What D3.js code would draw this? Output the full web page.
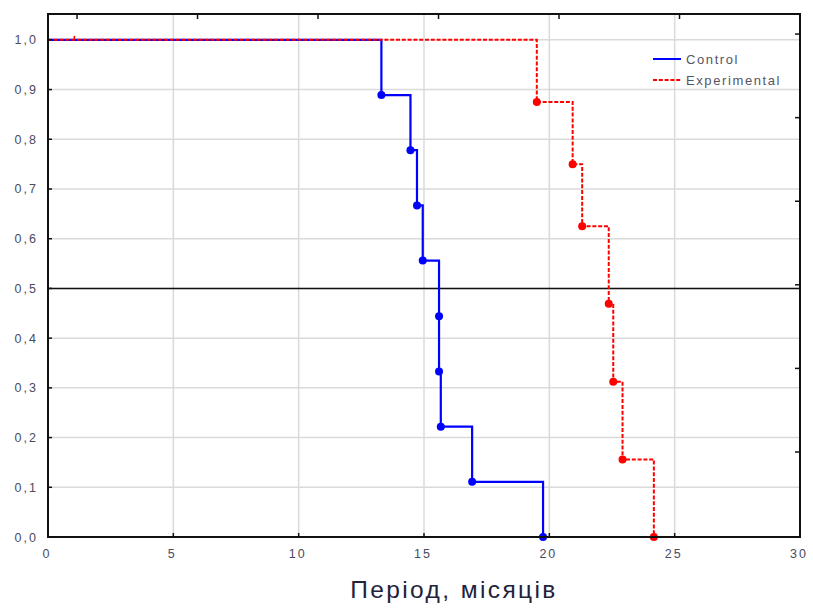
<!DOCTYPE html>
<html>
<head>
<meta charset="utf-8">
<script src="https://cdn.jsdelivr.net/npm/d3@7"></script>
<style>
  html, body { margin: 0; padding: 0; background: #fff; }
  svg { display: block; }
  text { font-family: "Liberation Sans", Arial, sans-serif; }
</style>
</head>
<body>
<svg id="chart" width="813" height="610"></svg>
<script>
// ---- data ----
const xTicks = [0, 5, 10, 15, 20, 25, 30];
const yTicks = [0, 0.1, 0.2, 0.3, 0.4, 0.5, 0.6, 0.7, 0.8, 0.9, 1.0];
const seriesNames = ["Control", "Experimental"];
const controlTimes = [0, 13.3, 14.46, 14.72, 14.95, 15.6, 15.6, 15.67, 16.92, 19.75];
const controlSurv  = [1, 0.889, 0.778, 0.667, 0.556, 0.444, 0.333, 0.222, 0.111, 0];
const expTimes = [0, 19.5, 20.93, 21.31, 22.37, 22.55, 22.92, 24.17];
const expSurv  = [1, 0.875, 0.75, 0.625, 0.469, 0.3125, 0.156, 0];
const expCensored = [1.05];
const medianLevel = 0.5;
const xTitle = "Період, місяців";
const topTicks = [0, 1, 2, 3, 4, 5];
const rightTicks = [1, 2, 3, 4, 5, 6];

// ---- layout ----
const svg = d3.select("#chart");
const L = 48, R = 800, T = 14, B = 537;
const x = d3.scaleLinear().domain([0, 30]).range([L, R]);
const y = d3.scaleLinear().domain([0, 1.052]).range([B, T]);
const xTop = d3.scaleLinear().domain([-0.241, 6.0]).range([L, R]);
const yRight = d3.scaleLinear().domain([-0.017, 6.24]).range([B, T]);

const gridColor = "#dadada";
const blue = "#0000ff", red = "#ff0000";
const labelColor = "#4a4a60";
const redDash = "4,1.8";

// grid
const g = svg.append("g");
g.selectAll("line.vg").data(xTicks.slice(1, -1)).join("line")
  .attr("x1", d => x(d)).attr("x2", d => x(d)).attr("y1", T).attr("y2", B)
  .attr("stroke", gridColor).attr("stroke-width", 1.5);
g.selectAll("line.hg").data(yTicks.slice(1)).join("line")
  .attr("x1", L).attr("x2", R).attr("y1", d => y(d)).attr("y2", d => y(d))
  .attr("stroke", gridColor).attr("stroke-width", 1.5);

// median line
svg.append("line").attr("x1", L).attr("x2", R)
  .attr("y1", y(medianLevel)).attr("y2", y(medianLevel))
  .attr("stroke", "#111").attr("stroke-width", 1.5);

// step lines
const line = d3.line().x(d => x(d[0])).y(d => y(d[1])).curve(d3.curveStepAfter);
const ctrl = controlTimes.map((t, i) => [t, controlSurv[i]]);
const expd = expTimes.map((t, i) => [t, expSurv[i]]);

svg.append("path").attr("d", line(ctrl)).attr("fill", "none")
  .attr("stroke", blue).attr("stroke-width", 2.2);
svg.append("path").attr("d", line(expd)).attr("fill", "none")
  .attr("stroke", red).attr("stroke-width", 2).attr("stroke-dasharray", redDash);

// markers
svg.selectAll("circle.c").data(ctrl.slice(1)).join("circle")
  .attr("cx", d => x(d[0])).attr("cy", d => y(d[1])).attr("r", 4).attr("fill", blue);
svg.selectAll("circle.e").data(expd.slice(1)).join("circle")
  .attr("cx", d => x(d[0])).attr("cy", d => y(d[1])).attr("r", 4).attr("fill", red);
// censored tick
svg.selectAll("line.cens").data(expCensored).join("line")
  .attr("x1", d => x(d)).attr("x2", d => x(d))
  .attr("y1", y(1) - 4).attr("y2", y(1))
  .attr("stroke", red).attr("stroke-width", 1.5);

// frame
svg.append("rect").attr("x", L).attr("y", T).attr("width", R - L).attr("height", B - T)
  .attr("fill", "none").attr("stroke", "#111").attr("stroke-width", 2);

// ticks (inward)
const tk = svg.append("g").attr("stroke", "#111").attr("stroke-width", 1.5);
tk.selectAll("line.lt").data(yTicks).join("line")
  .attr("x1", L).attr("x2", L + 4).attr("y1", d => y(d)).attr("y2", d => y(d));
tk.selectAll("line.bt").data(xTicks).join("line")
  .attr("x1", d => x(d)).attr("x2", d => x(d)).attr("y1", B).attr("y2", B - 4);
tk.selectAll("line.tt").data(topTicks).join("line")
  .attr("x1", d => xTop(d)).attr("x2", d => xTop(d)).attr("y1", T).attr("y2", T + 5);
tk.selectAll("line.rt").data(rightTicks).join("line")
  .attr("x1", R).attr("x2", R - 5).attr("y1", d => yRight(d)).attr("y2", d => yRight(d));

// tick labels
const fmt = d => d3.format(".1f")(d).replace(".", ",");
svg.selectAll("text.yl").data(yTicks).join("text")
  .attr("x", L - 10).attr("y", d => y(d) + 4.5)
  .attr("text-anchor", "end").attr("font-size", 12.5).attr("letter-spacing", 2)
  .attr("fill", labelColor).text(fmt);
svg.selectAll("text.xl").data(xTicks).join("text")
  .attr("x", d => x(d) - 1).attr("y", 558)
  .attr("text-anchor", "middle").attr("font-size", 12.5).attr("letter-spacing", 2)
  .attr("fill", labelColor).text(d => d);

// axis title
svg.append("text").attr("x", 454).attr("y", 598)
  .attr("text-anchor", "middle").attr("font-size", 24.5).attr("letter-spacing", 2.4)
  .attr("fill", "#22223a").text(xTitle);

// legend
const leg = svg.append("g");
const legY = [59, 80];
const legColors = [blue, red];
const legDash = [null, redDash];
seriesNames.forEach((name, i) => {
  leg.append("line").attr("x1", 653).attr("x2", 681)
    .attr("y1", legY[i]).attr("y2", legY[i])
    .attr("stroke", legColors[i]).attr("stroke-width", 2)
    .attr("stroke-dasharray", legDash[i]);
  leg.append("text").attr("x", 686).attr("y", legY[i] + 4.5)
    .attr("font-size", 13).attr("letter-spacing", 1.6)
    .attr("fill", "#555566").text(name);
});
</script>
</body>
</html>
